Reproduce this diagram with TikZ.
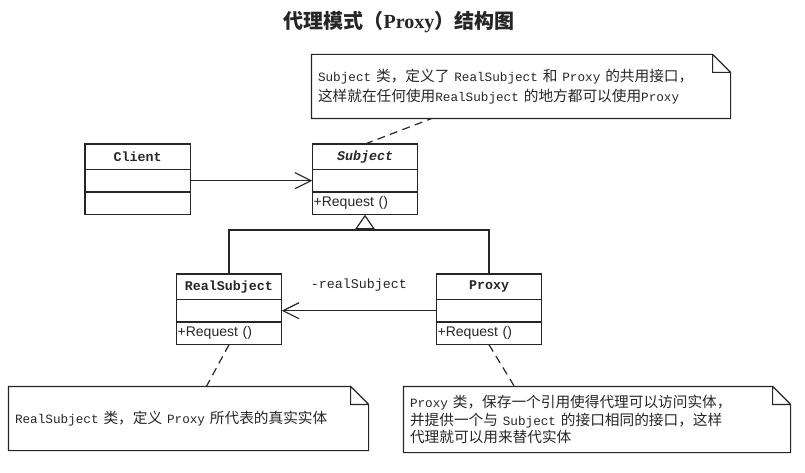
\documentclass[tikz,border=0pt]{standalone}
\usepackage{fontspec}
\usepackage{tikz}
\usetikzlibrary{positioning}
\usetikzlibrary{arrows.meta}
\newfontfamily\cjk{Noto Sans CJK SC}
\newfontfamily\monofnt{Liberation Mono}
\newfontfamily\sansfnt{Liberation Sans}
\newfontfamily\seriffnt{Liberation Serif}
\newcommand{\en}[1]{{\monofnt\fontsize{9.5}{15}\selectfont #1}}
\tikzset{
  cls-n/.style={draw, minimum width=79pt, minimum height=19pt, inner sep=0pt, outer sep=0pt,
    font=\monofnt\bfseries\fontsize{10}{12}\selectfont},
  cls-a/.style={draw, minimum width=79pt, minimum height=17pt, inner sep=0pt, outer sep=0pt},
  cls-o/.style={cls-a, text width=77pt, inner xsep=1pt, align=left,
    font=\sansfnt\fontsize{10.5}{12}\selectfont},
  note/.style={inner xsep=4.5pt, align=left, font=\cjk\fontsize{11}{15}\selectfont,
    append after command={\pgfextra{\draw[line width=0.9pt]
      (\tikzlastnode.south west) -- (\tikzlastnode.north west)
      -- ([xshift=-13.5pt]\tikzlastnode.north east) -- ([yshift=-13.5pt]\tikzlastnode.north east)
      -- (\tikzlastnode.south east) -- cycle
      ([xshift=-13.5pt]\tikzlastnode.north east) |- ([yshift=-13.5pt]\tikzlastnode.north east);}}},
  link/.style={dash pattern=on 6pt off 4pt},
  assoc/.style={-{Straight Barb[length=12pt, width=12pt]}},
  gen/.style={-{Triangle[open, length=11pt, width=15pt]}},
}

\begin{document}
\begin{tikzpicture}[x=0.75pt, y=-0.75pt, line width=0.9pt, color=black!85]
  \useasboundingbox (0,0) rectangle (805,473);

  % title
  \node[font=\cjk\bfseries\fontsize{15}{18}\selectfont] (title) at (399,22)
    {代理模式（{\seriffnt Proxy}）结构图};

  % classes
  \node[cls-n] (subj-n) at (365,156.7) {\itshape Subject};
  \node[cls-a, below=0pt of subj-n] (subj-a) {};
  \node[cls-o, below=0pt of subj-a] (subj-o) {+Request ()};

  \node[cls-n, left=91.5pt of subj-n] (cl-n) {Client};
  \node[cls-a, below=0pt of cl-n] (cl-a) {};
  \node[cls-a, below=0pt of cl-a] (cl-o) {};

  \node[cls-n, below=44.5pt of subj-o, xshift=-102pt] (rs-n) {RealSubject};
  \node[cls-a, below=0pt of rs-n] (rs-a) {};
  \node[cls-o, below=0pt of rs-a] (rs-o) {+Request ()};

  \node[cls-n, right=116pt of rs-n] (px-n) {Proxy};
  \node[cls-a, below=0pt of px-n] (px-a) {};
  \node[cls-o, below=0pt of px-a] (px-o) {+Request ()};

  % notes
  \node[note, minimum width=313.5pt, minimum height=47.25pt, text width=304.5pt] (note-subj) at (521,86.5)
    {\en{Subject} 类，定义了 \en{RealSubject} 和 \en{Proxy} 的共用接口，\\
     这样就在任何使用\en{RealSubject} 的地方都可以使用\en{Proxy}};
  \node[note, minimum width=269.25pt, minimum height=47.25pt, text width=260.25pt] (note-rs) at (188.5,418.5)
    {\en{RealSubject} 类，定义 \en{Proxy} 所代表的真实实体};
  \node[note, minimum width=289.5pt, minimum height=48.75pt, text width=280.5pt,
    font=\cjk\fontsize{11}{13}\selectfont] (note-px) at (597,419.5)
    {\en{Proxy} 类，保存一个引用使得代理可以访问实体，\\
     并提供一个与 \en{Subject} 的接口相同的接口，这样\\
     代理就可以用来替代实体};

  % associations
  \draw[assoc] (cl-a.east) -- (subj-a.west);
  \draw[assoc] (px-a.west) -- node[above=11pt, font=\monofnt\fontsize{10}{12}\selectfont] (rs-role) {-realSubject} (rs-a.east);

  % generalization
  \coordinate (gen-j) at (365,230);
  \draw (rs-n.north) |- (gen-j) -| (px-n.north);
  \draw[gen] (gen-j) -- (subj-o.south);

  % note links
  \draw[link] (subj-n.north) -- ([xshift=90pt]note-subj.south west);
  \draw[link] (rs-o.south) -- ([xshift=148.5pt]note-rs.north west);
  \draw[link] (px-o.south) -- ([xshift=83.25pt]note-px.north west);
\end{tikzpicture}
\end{document}
